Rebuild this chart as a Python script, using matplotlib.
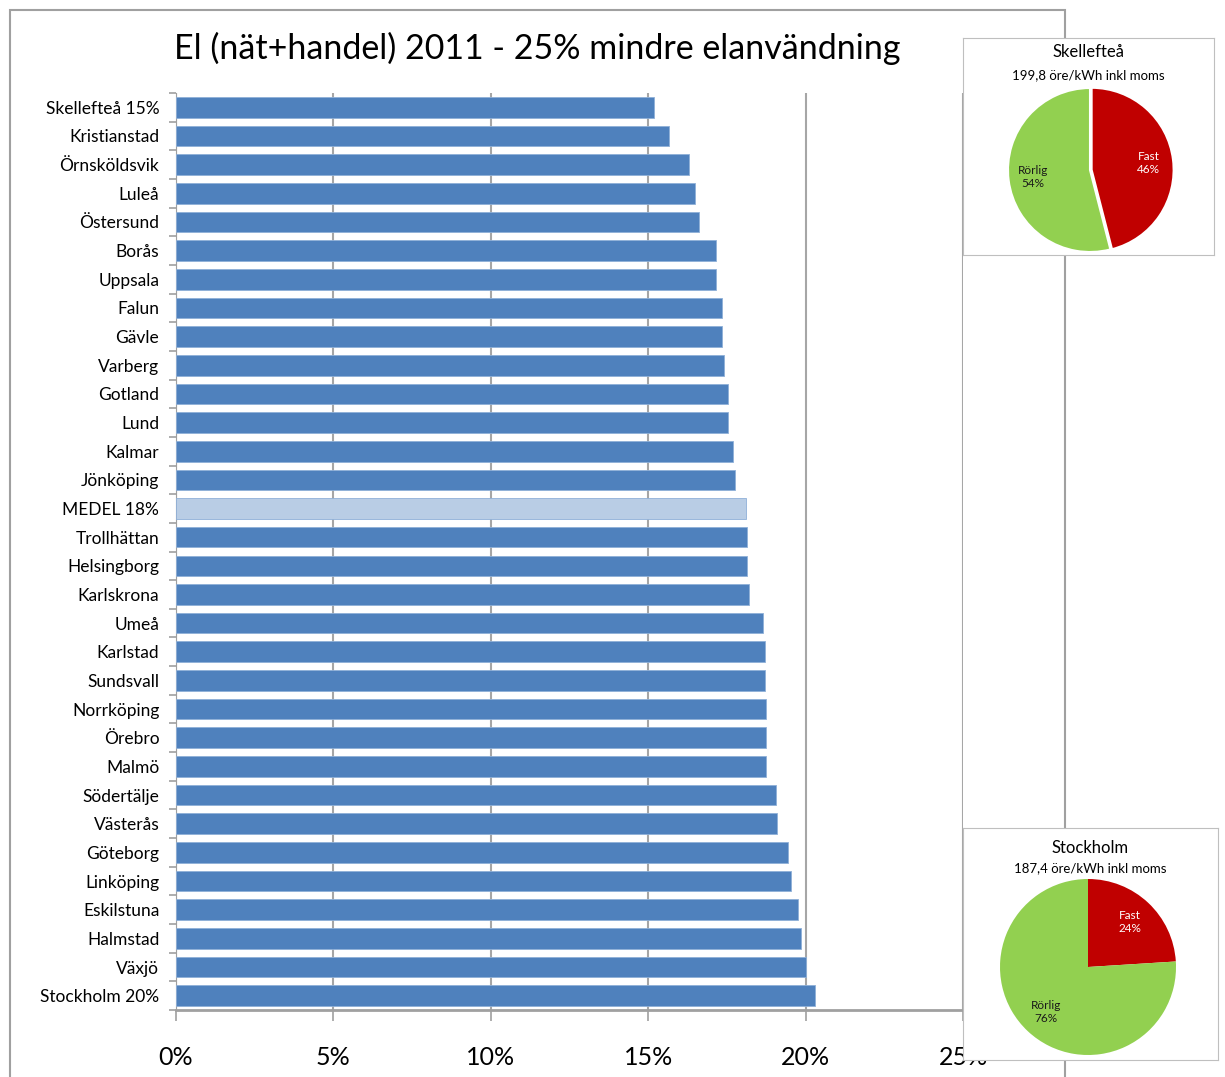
import matplotlib
matplotlib.use("Agg")
import matplotlib.pyplot as plt
from matplotlib.patches import Rectangle
from matplotlib.ticker import FixedLocator, PercentFormatter

plt.rcParams['font.family'] = ['Lato', 'DejaVu Sans']

cities = ["Skellefteå 15%", "Kristianstad", "Örnsköldsvik", "Luleå", "Östersund",
          "Borås", "Uppsala", "Falun", "Gävle", "Varberg", "Gotland", "Lund",
          "Kalmar", "Jönköping", "MEDEL 18%", "Trollhättan", "Helsingborg",
          "Karlskrona", "Umeå", "Karlstad", "Sundsvall", "Norrköping", "Örebro",
          "Malmö", "Södertälje", "Västerås", "Göteborg", "Linköping",
          "Eskilstuna", "Halmstad", "Växjö", "Stockholm 20%"]
shares = [15.2, 15.65, 16.3, 16.5, 16.6, 17.15, 17.15, 17.35, 17.35, 17.4,
          17.55, 17.55, 17.7, 17.75, 18.1, 18.15, 18.15, 18.2, 18.65, 18.7,
          18.7, 18.75, 18.75, 18.75, 19.05, 19.1, 19.45, 19.55, 19.75, 19.85,
          20.0, 20.3]
x_ticks = [0, 5, 10, 15, 20, 25]

pie_slices = ["Fast", "Rörlig"]
skelleftea_pct = [46, 54]
stockholm_pct = [24, 76]
skelleftea_price = "199,8 öre/kWh inkl moms"
stockholm_price = "187,4 öre/kWh inkl moms"

W, H = 1225, 1077
fig = plt.figure(figsize=(W / 100, H / 100), dpi=100)

def frac(x0, y0, x1, y1):
    # pixel box (top-left origin) -> figure fraction rect
    return [x0 / W, 1 - y1 / H, (x1 - x0) / W, (y1 - y0) / H]

# outer chart frame
fig.patches.append(Rectangle((10 / W, -0.01), (1065 - 10) / W, 1 - 10 / H + 0.01,
                             transform=fig.transFigure, fill=False,
                             edgecolor="#A0A0A0", linewidth=1.5))

fig.text(537 / W, 1 - 48 / H, "El (nät+handel) 2011 - 25% mindre elanvändning",
         ha="center", va="center", fontsize=24.5)

ax = fig.add_axes(frac(176, 93, 963, 1010))
colors = ["#B9CDE5" if c.startswith("MEDEL") else "#4F81BD" for c in cities]
pos = list(range(len(cities)))
ax.barh(pos, shares, height=0.72, color=colors, edgecolor="#8FB0D8",
        linewidth=0.6, zorder=3)
ax.set_ylim(len(cities) - 0.5, -0.5)
ax.set_xlim(0, 25)
ax.set_yticks(pos)
ax.set_yticklabels(cities, fontsize=12.5)
ax.yaxis.set_minor_locator(FixedLocator([p - 0.5 for p in pos] + [len(cities) - 0.5]))
ax.tick_params(axis="y", which="major", length=0, pad=12)
ax.tick_params(axis="y", which="minor", length=5, color="#A0A0A0", width=1.2)
ax.set_xticks(x_ticks)
ax.xaxis.set_major_formatter(PercentFormatter(decimals=0))
ax.tick_params(axis="x", length=8, color="#A0A0A0", width=1.2, labelsize=18, pad=18)
ax.grid(axis="x", color="#A6A6A6", linewidth=1.5, zorder=0)
for s in ["top", "right"]:
    ax.spines[s].set_visible(False)
ax.spines["left"].set_color("#A0A0A0")
ax.spines["bottom"].set_color("#A0A0A0")
ax.spines["bottom"].set_linewidth(2)

def pie_box(box, center, r, title, price, vals, ty, py, explode):
    bx = fig.add_axes(frac(*box))
    bx.set_xticks([])
    bx.set_yticks([])
    for s in bx.spines.values():
        s.set_color("#BFBFBF")
    bx.set_zorder(5)
    x0, y0, x1, y1 = box
    fig.text((x0 + x1) / 2 / W, 1 - ty / H, title, ha="center", va="center",
             fontsize=12, zorder=7)
    fig.text((x0 + x1) / 2 / W, 1 - py / H, price, ha="center", va="center",
             fontsize=9.5, zorder=7)
    cx, cy = center
    pa = fig.add_axes(frac(cx - r, cy - r, cx + r, cy + r))
    pa.set_zorder(6)
    wedges, texts = pa.pie(vals, colors=["#C00000", "#92D050"], startangle=90,
                           counterclock=False, explode=explode, frame=False,
                           labels=[f"{n}\n{v}%" for n, v in zip(pie_slices, vals)],
                           labeldistance=0.7, textprops=dict(fontsize=8.5),
                           wedgeprops=dict(edgecolor="white",
                                           linewidth=1.5 if explode[0] else 0))
    for t, c in zip(texts, ["white", "#1A1A1A"]):
        t.set_color(c)
        t.set_ha("center")
        t.set_va("center")
        t.set_multialignment("center")
    pa.set_xlim(-1.0, 1.0)
    pa.set_ylim(-1.0, 1.0)
    pa.set_aspect("equal")
    pa.axis("off")

pie_box((963, 38, 1214, 255), (1090, 170), 82, "Skellefteå",
        skelleftea_price, skelleftea_pct, 52, 75, [0.02, 0])
pie_box((963, 828, 1218, 1060), (1088, 967), 88, "Stockholm",
        stockholm_price, stockholm_pct, 848, 868, [0, 0])

fig.savefig("out.png", dpi=100)
